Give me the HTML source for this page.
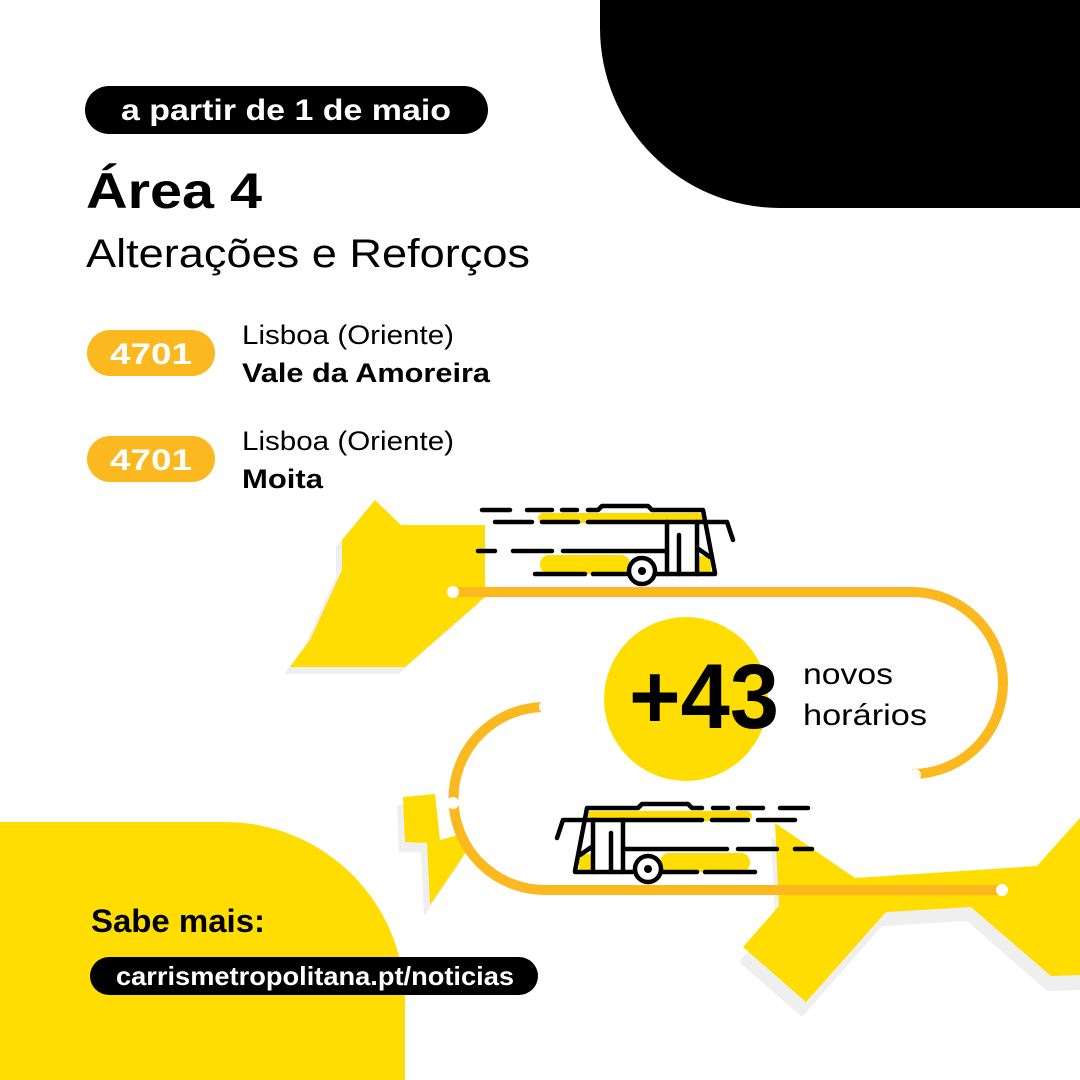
<!DOCTYPE html>
<html><head><meta charset="utf-8"><style>
html,body{margin:0;padding:0;background:#fff}
svg{display:block}
text{font-family:"Liberation Sans",sans-serif}
</style></head><body>
<svg width="1080" height="1080" viewBox="0 0 1080 1080" xmlns="http://www.w3.org/2000/svg">
<rect width="1080" height="1080" fill="#fff"/>
<path d="M600 0 H1080 V208 H780 A180 180 0 0 1 600 28 Z" fill="#000"/>
<path d="M0 822 H225 A180 180 0 0 1 405 1002 V1080 H0 Z" fill="#FFDD00"/>

<g fill="#EFEFEF">
<polygon points="369,507 395,532 479,532 479,604 399,674 284,674 304,647 336,577 336,547"/>
<polygon points="397,805 430,803 434,848 460,842 461,862 424,916 421,852 399,852"/>
<polygon points="771,837 851,892 1033,880 1080,832 1080,990 1047,991 967,921 882,926 802,1017 739,962 775,920"/>
</g>
<g fill="#FFDD00">
<polygon points="375,500 401,525 485,525 485,597 405,667 290,667 310,640 342,570 342,540"/>
<polygon points="403,797 435,794 440,840 465,833 466,852 430,905 427,843 405,842"/>
<polygon points="775,823 855,878 1037,866 1080,818 1080,975 1051,976 971,907 886,912 806,1002 743,947 779,906"/>
</g>

<g fill="none" stroke="#FBB81F" stroke-width="10">
<path d="M453 592 H912 A91 91 0 0 1 912 774 H915"/>
<path d="M545 707 A91.5 91.5 0 0 0 545 890 H1002"/>
</g>
<g fill="#fff">
<circle cx="453" cy="592" r="6"/>
<circle cx="915" cy="775" r="6"/>
<circle cx="545" cy="707" r="6"/>
<circle cx="453" cy="803" r="6"/>
<circle cx="1002" cy="890" r="6"/>
</g>

<circle cx="686" cy="699" r="82" fill="#FFDD00"/>

<g id="bus">
<rect x="538" y="513" width="165" height="10" rx="5" fill="#FFDD00"/>
<rect x="540" y="555" width="90" height="19" rx="9" fill="#FFDD00"/>
<rect x="699" y="556" width="12" height="16" fill="#FFDD00"/>
<g fill="none" stroke="#000" stroke-width="4.5" stroke-linecap="round" stroke-linejoin="round">
<path d="M482 510H510 M527 510H552 M562 510H577 M588 510H598 L602 506 H648 L652 510 H703 L715 573"/>
<path d="M495 522H532 M542 522H578 M588 522H727 L733 540"/>
<path d="M478 551H495 M513 551H552 M563 551H667"/>
<path d="M535 574H585 M593 574H627 M657 574H715"/>
<path d="M667 522V574 M679 535V574 M697 522V574 M697 548L710 557"/>
</g>
<circle cx="642" cy="571" r="13" fill="#fff" stroke="#000" stroke-width="4.5"/>
<circle cx="642" cy="571" r="4" fill="#000"/>
</g>
<use href="#bus" transform="translate(1290,298) scale(-1,1)"/>

<rect x="85" y="86" width="403" height="48" rx="24" fill="#000"/>
<text x="286" y="120" text-anchor="middle" fill="#fff" font-size="30" font-weight="bold" textLength="330" lengthAdjust="spacingAndGlyphs">a partir de 1 de maio</text>
<text x="86" y="208" font-size="50" font-weight="bold" fill="#000" textLength="176" lengthAdjust="spacingAndGlyphs">Área 4</text>
<text x="86" y="267" font-size="40" fill="#000" textLength="444" lengthAdjust="spacingAndGlyphs">Alterações e Reforços</text>

<rect x="87" y="330" width="128" height="46" rx="23" fill="#FBB81F"/>
<text x="151" y="364" text-anchor="middle" fill="#fff" font-size="30" font-weight="bold" textLength="82" lengthAdjust="spacingAndGlyphs">4701</text>
<text x="242" y="344" font-size="27" fill="#000" textLength="212" lengthAdjust="spacingAndGlyphs">Lisboa (Oriente)</text>
<text x="242" y="382" font-size="27" font-weight="bold" fill="#000" textLength="248" lengthAdjust="spacingAndGlyphs">Vale da Amoreira</text>

<rect x="87" y="436" width="128" height="46" rx="23" fill="#FBB81F"/>
<text x="151" y="470" text-anchor="middle" fill="#fff" font-size="30" font-weight="bold" textLength="82" lengthAdjust="spacingAndGlyphs">4701</text>
<text x="242" y="450" font-size="27" fill="#000" textLength="212" lengthAdjust="spacingAndGlyphs">Lisboa (Oriente)</text>
<text x="242" y="488" font-size="27" font-weight="bold" fill="#000" textLength="81" lengthAdjust="spacingAndGlyphs">Moita</text>

<text x="629" y="728" font-size="92" font-weight="bold" fill="#000" textLength="150" lengthAdjust="spacingAndGlyphs">+43</text>
<text x="803" y="684" font-size="30" fill="#000" textLength="90" lengthAdjust="spacingAndGlyphs">novos</text>
<text x="803" y="725" font-size="30" fill="#000" textLength="124" lengthAdjust="spacingAndGlyphs">horários</text>

<text x="91" y="932" font-size="32" font-weight="bold" fill="#000" textLength="174" lengthAdjust="spacingAndGlyphs">Sabe mais:</text>
<rect x="90" y="957" width="448" height="38" rx="19" fill="#000"/>
<text x="116" y="985" font-size="26" font-weight="bold" fill="#fff" textLength="398" lengthAdjust="spacingAndGlyphs">carrismetropolitana.pt/noticias</text>
</svg>
</body></html>
